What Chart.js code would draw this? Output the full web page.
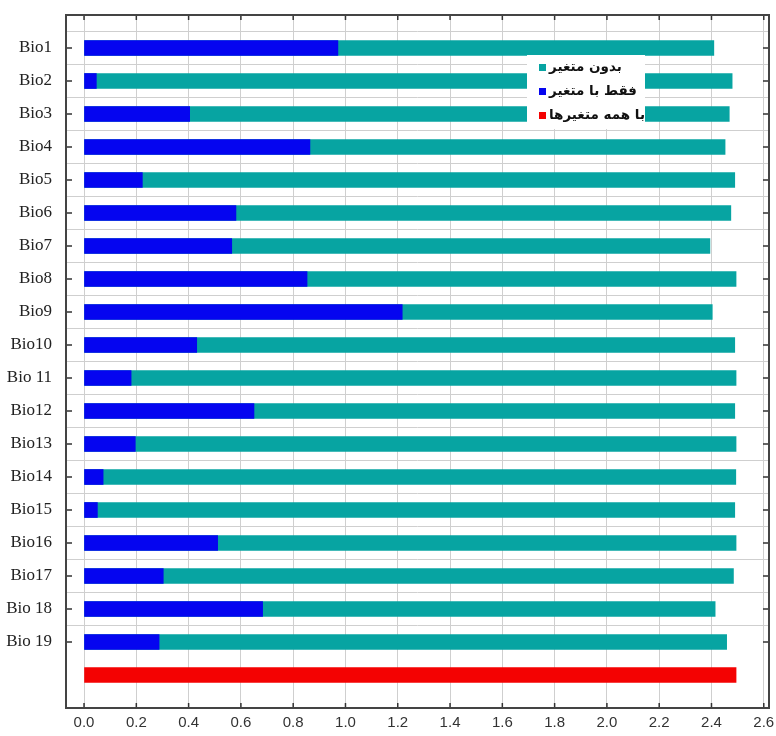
<!DOCTYPE html>
<html>
<head>
  <meta charset="UTF-8">
  <title>Jackknife</title>
  <script src="https://cdn.jsdelivr.net/npm/chart.js"></script>
  <style>
    body {
      margin: 0;
      background: #fff;
    }
    .chart-container {
      width: 776px;
      height: 736px;
      position: relative;
    }
  </style>
</head>
<body>
  <div class="chart-container">
    <canvas id="jackknifeChart"></canvas>
  </div>

  <script>
    // values
    const bioLabels = ['Bio1', 'Bio2', 'Bio3', 'Bio4', 'Bio5', 'Bio6', 'Bio7', 'Bio8', 'Bio9', 'Bio10',
      'Bio 11', 'Bio12', 'Bio13', 'Bio14', 'Bio15', 'Bio16', 'Bio17', 'Bio 18', 'Bio 19'];
    const withoutVariable = [2.409, 2.479, 2.468, 2.452, 2.489, 2.474, 2.394, 2.494, 2.403, 2.489,
      2.494, 2.489, 2.494, 2.493, 2.489, 2.494, 2.484, 2.414, 2.458];
    const withOnlyVariable = [0.971, 0.047, 0.404, 0.864, 0.223, 0.581, 0.565, 0.853, 1.217, 0.431,
      0.180, 0.650, 0.196, 0.073, 0.051, 0.511, 0.303, 0.683, 0.287];
    const withAllVariables = [2.494];
    const xTicks = [0.0, 0.2, 0.4, 0.6, 0.8, 1.0, 1.2, 1.4, 1.6, 1.8, 2.0, 2.2, 2.4, 2.6];
    const seriesNames = ['بدون متغیر', 'فقط با متغیر', 'با همه متغیرها'];
    const seriesColors = ['#07a4a2', '#0505f0', '#f40202'];

    // one empty row above, the red row below the variables, one empty row at the bottom
    const rowLabels = [''].concat(bioLabels, ['', '']);
    const pad = arr => [null].concat(arr, [null, null]);
    const withoutData = pad(withoutVariable);
    const onlyData = pad(withOnlyVariable);
    const allData = [null].concat(bioLabels.map(() => null), withAllVariables, [null]);
    const isBioRow = v => v >= 1 && v <= bioLabels.length;

    const framePlugin = {
      id: 'frame',
      afterDatasetsDraw(chart) {
        const { ctx, chartArea: a, scales } = chart;
        ctx.save();
        // inner tick marks
        ctx.strokeStyle = '#333';
        ctx.lineWidth = 1.5;
        ctx.beginPath();
        scales.x.ticks.forEach(t => {
          const px = scales.x.getPixelForValue(t.value);
          ctx.moveTo(px, a.top); ctx.lineTo(px, a.top + 5);
          ctx.moveTo(px, a.bottom); ctx.lineTo(px, a.bottom - 5);
        });
        scales.y.ticks.forEach(t => {
          if (!isBioRow(t.value)) return;
          const py = scales.y.getPixelForValue(t.value);
          ctx.moveTo(a.left, py); ctx.lineTo(a.left + 6, py);
          ctx.moveTo(a.right, py); ctx.lineTo(a.right - 6, py);
        });
        ctx.stroke();
        // border round the plot
        ctx.strokeStyle = '#444';
        ctx.lineWidth = 2;
        ctx.strokeRect(a.left, a.top, a.right - a.left, a.bottom - a.top);

        // legend box inside the plot
        const bx = a.right - 242, by = a.top + 40;
        ctx.fillStyle = '#fff';
        ctx.fillRect(bx, by, 118, 74);
        ctx.font = 'bold 13.5px "DejaVu Sans"';
        ctx.textBaseline = 'middle';
        ctx.textAlign = 'left';
        seriesNames.forEach((name, i) => {
          const y = by + 12 + i * 24;
          ctx.fillStyle = seriesColors[i];
          ctx.fillRect(bx + 12, y - 3, 7, 7);
          ctx.fillStyle = '#111';
          ctx.fillText(name, bx + 22, y);
        });
        ctx.restore();
      }
    };

    new Chart(document.getElementById('jackknifeChart'), {
      type: 'bar',
      data: {
        labels: rowLabels,
        datasets: [
          {
            label: seriesNames[1],
            data: onlyData,
            backgroundColor: seriesColors[1],
            barThickness: 15,
            grouped: false,
            order: 0
          },
          {
            label: seriesNames[0],
            data: withoutData,
            backgroundColor: seriesColors[0],
            barThickness: 15,
            grouped: false,
            order: 1
          },
          {
            label: seriesNames[2],
            data: allData,
            backgroundColor: seriesColors[2],
            barThickness: 15,
            grouped: false,
            order: 2
          }
        ]
      },
      options: {
        indexAxis: 'y',
        responsive: true,
        maintainAspectRatio: false,
        animation: false,
        layout: {
          padding: { top: 15, right: 7, left: 0, bottom: 0 }
        },
        plugins: {
          legend: { display: false },
          tooltip: { enabled: false }
        },
        scales: {
          x: {
            type: 'linear',
            min: -0.069,
            max: 2.62,
            afterBuildTicks: axis => {
              axis.ticks = xTicks.map(v => ({ value: v }));
            },
            afterFit: axis => {
              axis.height = 28;
              axis.paddingLeft = 0;
              axis.paddingRight = 0;
            },
            border: { display: false },
            grid: { color: '#cfcfcf', lineWidth: 1, drawTicks: false },
            ticks: {
              padding: 6,
              color: '#333',
              font: { family: '"Liberation Sans Narrow", "Liberation Sans", sans-serif', size: 15 },
              callback: v => Number(v).toFixed(1)
            }
          },
          y: {
            type: 'category',
            offset: false,
            afterFit: axis => {
              axis.width = 66;
              axis.paddingTop = 0;
              axis.paddingBottom = 0;
            },
            border: { display: false },
            grid: {
              drawTicks: false,
              lineWidth: 1,
              color: c => isBioRow(c.tick ? c.tick.value : c.index) ? '#cfcfcf' : 'rgba(0,0,0,0)'
            },
            ticks: {
              autoSkip: false,
              padding: 14,
              color: '#222',
              font: { family: '"Liberation Serif", serif', size: 17 }
            }
          }
        }
      },
      plugins: [framePlugin]
    });
  </script>
</body>
</html>
